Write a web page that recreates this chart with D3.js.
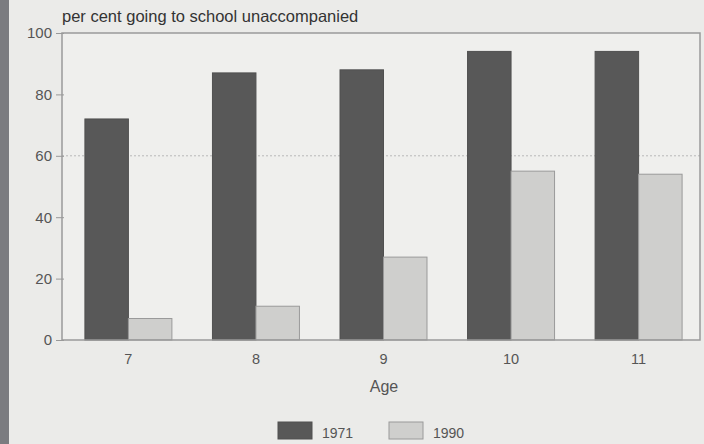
<!DOCTYPE html>
<html><head><meta charset="utf-8">
<script src="https://cdn.jsdelivr.net/npm/d3@7"></script>
<style>
html,body{margin:0;padding:0;background:#ebebe9;}
svg{display:block;font-family:"Liberation Sans",Arial,sans-serif;}
</style></head>
<body>
<svg id="c" width="704" height="444"></svg>
<script>
const ages = ["7","8","9","10","11"];
const series = ["1971","1990"];
const values1971 = [72, 87, 88, 94, 94];
const values1990 = [7, 11, 27, 55, 54];
const yTicks = [0, 20, 40, 60, 80, 100];
const title = "per cent going to school unaccompanied";
const xTitle = "Age";

const data = ages.map((a,i)=>({age:a, v:[values1971[i], values1990[i]]}));
const svg = d3.select("#c");
const W=704,H=444;
const m={l:62,r:4,t:33,b:104};
const pw=W-m.l-m.r, ph=H-m.t-m.b;

svg.append("rect").attr("width",W).attr("height",H).attr("fill","#ebebe9");
svg.append("rect").attr("width",9).attr("height",H).attr("fill","#7b7c80");

const g=svg.append("g").attr("transform",`translate(${m.l},${m.t})`);
const y=d3.scaleLinear().domain([0,100]).range([ph,0]);
const x0=d3.scaleBand().domain(ages).range([2.5,pw+2.5]).paddingInner(0.318).paddingOuter(0.16);
const x1=d3.scaleBand().domain(series).range([0,x0.bandwidth()]);
const colors={"1971":"#585858","1990":"#cfcfcd"};
const strokes={"1971":"#505050","1990":"#9a9a9a"};

g.append("rect").attr("width",pw).attr("height",ph).attr("fill","#efefed");
g.append("line").attr("x1",0).attr("x2",pw).attr("y1",y(60)).attr("y2",y(60))
 .attr("stroke","#b8b8b8").attr("stroke-dasharray","2,2");

const grp=g.selectAll("g.grp").data(data).enter().append("g").attr("class","grp")
 .attr("transform",d=>`translate(${x0(d.age)},0)`);
grp.selectAll("rect").data(d=>series.map((s,i)=>({s,v:d.v[i]}))).enter().append("rect")
 .attr("x",d=>x1(d.s)).attr("width",x1.bandwidth())
 .attr("y",d=>y(d.v)).attr("height",d=>ph-y(d.v))
 .attr("fill",d=>colors[d.s]).attr("stroke",d=>strokes[d.s]).attr("stroke-width",1);

g.append("rect").attr("width",pw).attr("height",ph).attr("fill","none").attr("stroke","#9a9a9a").attr("stroke-width",1.5);

const ya=g.append("g").call(d3.axisLeft(y).tickValues(yTicks).tickSize(6).tickPadding(4));
ya.select(".domain").remove();
ya.selectAll(".tick line").attr("stroke","#999").attr("x2",2).attr("x1",-6);
ya.selectAll("text").attr("fill","#555").attr("font-size",15);

const xa=g.append("g").attr("transform",`translate(0,${ph})`)
 .call(d3.axisBottom(x0).tickSize(0).tickPadding(14));
xa.select(".domain").remove();
xa.selectAll("text").attr("fill","#555").attr("font-size",14.5);

svg.append("text").attr("x",m.l).attr("y",22).attr("fill","#333").attr("font-size",16.5).text(title);
svg.append("text").attr("x",384).attr("y",392).attr("text-anchor","middle").attr("fill","#555").attr("font-size",16).text(xTitle);

const lg=svg.append("g");
const lx=[278,389];
series.forEach((s,i)=>{
  lg.append("rect").attr("x",lx[i]).attr("y",422).attr("width",34).attr("height",17)
    .attr("fill",colors[s]).attr("stroke",strokes[s]);
  lg.append("text").attr("x",lx[i]+44).attr("y",438).attr("fill","#555").attr("font-size",14).text(s);
});
</script>
</body></html>
